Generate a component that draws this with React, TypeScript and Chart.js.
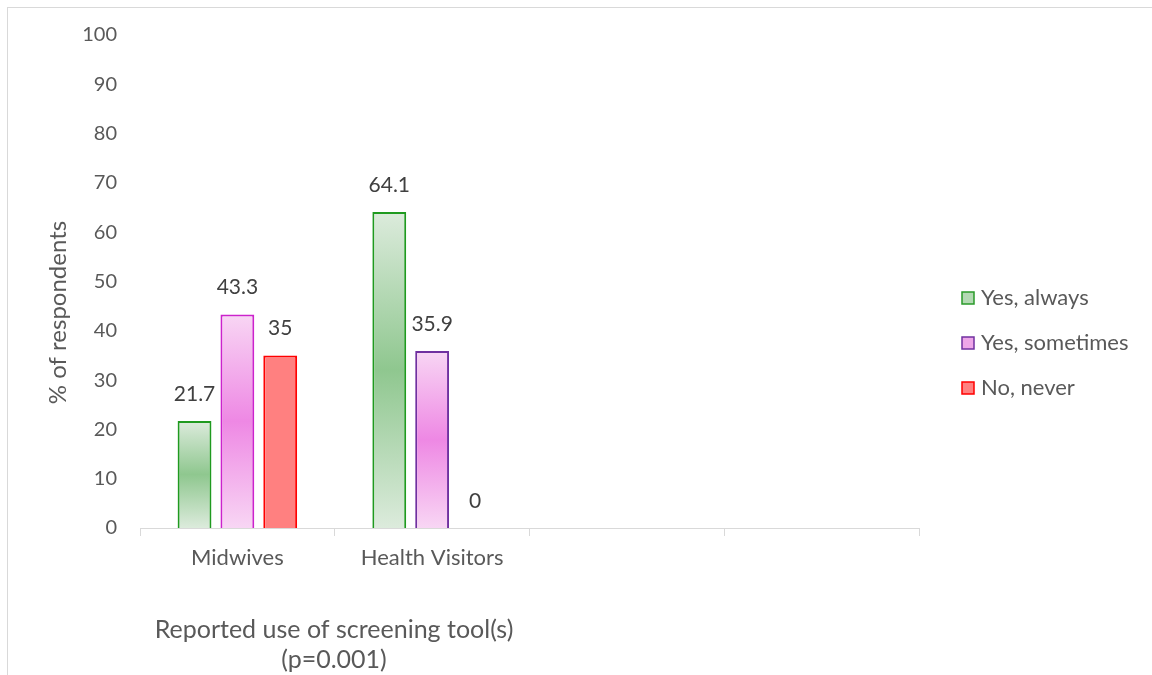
import React, { useEffect, useRef } from 'react';
import { Chart, registerables } from 'chart.js';

Chart.register(...registerables);

const categories = ['Midwives', 'Health Visitors', '', ''];
const seriesNames = ['Yes, always', 'Yes, sometimes', 'No, never'];
const yesAlways: (number | null)[] = [21.7, 64.1, null, null];
const yesSometimes: (number | null)[] = [43.3, 35.9, null, null];
const noNever: (number | null)[] = [35, 0, null, null];
const yMin = 0;
const yMax = 100;
const yStep = 10;
const yTitle = '% of respondents';
const xTitleLines = ['Reported use of screening tool(s)', '(p=0.001)'];

const FONT = 'Lato, "Open Sans", sans-serif';
const TEXT = '#595959';
const LABEL = '#404040';
const AXIS = '#d9d9d9';

function vGrad(edge: string, mid: string) {
  return (c: any) => {
    const chart = c.chart;
    const y = chart.scales && chart.scales.y;
    if (!y || c.type !== 'data' || !c.parsed || c.parsed.y == null) return mid;
    const top = y.getPixelForValue(c.parsed.y);
    const base = y.getPixelForValue(0);
    if (!isFinite(top) || !isFinite(base) || Math.abs(base - top) < 1) return edge;
    const g = chart.ctx.createLinearGradient(0, top, 0, base);
    g.addColorStop(0, edge);
    g.addColorStop(0.5, mid);
    g.addColorStop(1, edge);
    return g;
  };
}

const zeroless = (w: number) => (c: any) => (c.parsed && c.parsed.y === 0 ? 0 : w);

const legendItems = [
  { fill: '#b3d9b3', stroke: '#2a9a2a' },
  { fill: '#eea6e8', stroke: '#7030a0' },
  { fill: '#ff8080', stroke: '#ff0000' },
];

const extrasPlugin = {
  id: 'extras',
  afterDatasetsDraw(chart: any) {
    const ctx = chart.ctx;
    ctx.save();
    ctx.font = `21px ${FONT}`;
    ctx.fillStyle = LABEL;
    ctx.textAlign = 'center';
    ctx.textBaseline = 'middle';
    chart.data.datasets.forEach((ds: any, di: number) => {
      const meta = chart.getDatasetMeta(di);
      meta.data.forEach((el: any, i: number) => {
        const v = ds.data[i];
        if (v == null) return;
        ctx.fillText(String(v), el.x, el.y - 27);
      });
    });
    ctx.restore();
  },
  afterDraw(chart: any) {
    const ctx = chart.ctx;
    const a = chart.chartArea;
    ctx.save();
    ctx.fillStyle = TEXT;
    // y title
    ctx.save();
    ctx.font = `24px ${FONT}`;
    ctx.translate(a.left - 82, (a.top + a.bottom) / 2 + 31);
    ctx.rotate(-Math.PI / 2);
    ctx.textAlign = 'center';
    ctx.textBaseline = 'middle';
    ctx.fillText(yTitle, 0, 0);
    ctx.restore();
    // x title
    ctx.font = `25px ${FONT}`;
    ctx.textAlign = 'center';
    ctx.textBaseline = 'middle';
    xTitleLines.forEach((line, i) => {
      ctx.fillText(line, a.left + 194, a.bottom + 102 + i * 30);
    });
    // legend
    ctx.font = `22px ${FONT}`;
    ctx.textAlign = 'left';
    seriesNames.forEach((name, i) => {
      const y = a.top + 263 + i * 45;
      const x = a.right + 43;
      const it = legendItems[i];
      ctx.fillStyle = it.fill;
      ctx.fillRect(x, y - 6, 12, 12);
      ctx.strokeStyle = it.stroke;
      ctx.lineWidth = 1.5;
      ctx.strokeRect(x, y - 6, 12, 12);
      ctx.fillStyle = TEXT;
      ctx.fillText(name, x + 19, y);
    });
    ctx.restore();
  },
};

export default function App() {
  const ref = useRef<HTMLCanvasElement>(null);
  useEffect(() => {
    if (!ref.current) return;
    const chart = new Chart(ref.current, {
      type: 'bar',
      data: {
        labels: categories,
        datasets: [
          {
            label: seriesNames[0],
            data: yesAlways,
            backgroundColor: vGrad('#dcebdc', '#8fc78f'),
            borderColor: '#1f9a1f',
            borderWidth: zeroless(2),
          },
          {
            label: seriesNames[1],
            data: yesSometimes,
            backgroundColor: vGrad('#f8d6f4', '#ee88e4'),
            borderColor: ['#cc22cc', '#7030a0', '#7030a0', '#7030a0'],
            borderWidth: zeroless(2),
          },
          {
            label: seriesNames[2],
            data: noNever,
            backgroundColor: '#ff8080',
            borderColor: '#ff0000',
            borderWidth: zeroless(2),
          },
        ] as any,
      },
      options: {
        responsive: false,
        animation: false,
        barPercentage: 0.79,
        categoryPercentage: 0.66,
        layout: { padding: { top: 20, right: 233, left: 0, bottom: 0 } },
        plugins: {
          legend: { display: false },
          tooltip: { enabled: false },
        },
        scales: {
          x: {
            grid: {
              offset: true,
              drawOnChartArea: false,
              drawTicks: true,
              tickLength: 8,
              color: AXIS,
            },
            border: { display: true, color: AXIS, width: 1 },
            ticks: { color: TEXT, font: { family: FONT, size: 22 }, padding: 9 },
            afterFit: (s: any) => {
              s.height = 147;
            },
          },
          y: {
            min: yMin,
            max: yMax,
            grid: { display: false },
            border: { display: false },
            ticks: {
              stepSize: yStep,
              color: TEXT,
              font: { family: FONT, size: 20 },
              padding: 15,
            },
            afterFit: (s: any) => {
              s.width = 132;
            },
          },
        },
      } as any,
      plugins: [extrasPlugin],
    });
    return () => chart.destroy();
  }, []);
  return (
    <div
      style={{
        position: 'absolute',
        left: 7,
        top: 7,
        width: 1145,
        height: 668,
        borderTop: `1px solid ${AXIS}`,
        borderLeft: `1px solid ${AXIS}`,
        background: '#fff',
        overflow: 'hidden',
        boxSizing: 'border-box',
      }}
    >
      <canvas ref={ref} width={1144} height={667} style={{ display: 'block' }} />
    </div>
  );
}
